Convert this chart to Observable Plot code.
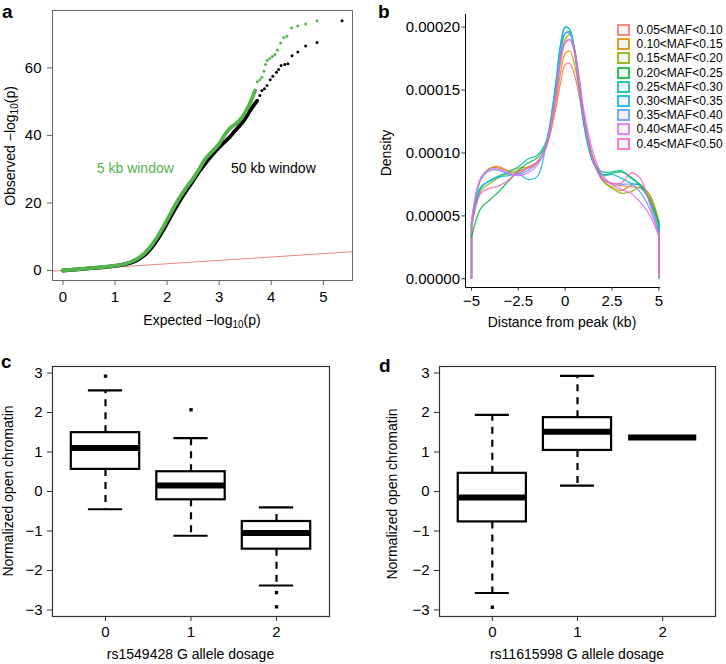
<!DOCTYPE html>
<html><head><meta charset="utf-8">
<script src="https://cdn.jsdelivr.net/npm/d3@7"></script>
<script src="https://cdn.jsdelivr.net/npm/@observablehq/plot@0.6"></script>
<style>
body{margin:0;background:#fff;}
#fig{position:relative;width:726px;height:664px;font-family:"Liberation Sans",Arial,Helvetica,sans-serif;color:#000;overflow:hidden;background:#fff}
.panel{position:absolute}
.lbl{position:absolute;font-size:14px;white-space:nowrap;line-height:1}
.rot{transform:translate(-50%,-50%) rotate(-90deg)}
.ctr{transform:translate(-50%,-50%)}
.let{position:absolute;font-weight:bold;font-size:19px;line-height:1}
.lbl sub{font-size:10px;vertical-align:-3px;line-height:0}
.key{position:absolute;width:13px;height:12px;box-sizing:border-box;border:2px solid;background:#f2f2f2}
.ktxt{position:absolute;font-size:12px;line-height:1;white-space:nowrap;transform:translateY(-50%)}
</style>
</head><body>
<div id="fig"></div>
<script>
// ---------- Panel a: QQ plot ----------
const qq5Exp  = [0,0.25,0.5,0.75,1.0,1.2,1.4,1.5,1.6,1.7,1.8,1.9,2.0,2.1,2.2,2.3,2.4,2.5,2.6,2.7,2.8,2.9,3.0,3.1,3.2,3.3,3.4,3.5,3.6,3.69];
const qq5Obs  = [0,0.35,0.65,1.0,1.45,2.0,3.2,4.2,5.6,7.4,9.6,12.2,15.0,17.8,20.6,23.0,25.2,27.3,29.6,32.3,34.2,35.8,37.5,40.0,42.0,43.2,44.6,46.8,49.8,53.3];
const qq5TailExp = [3.73,3.78,3.82,3.86,3.89,3.92,3.97,4.02,4.07,4.12,4.18,4.24,4.30,4.39,4.51,4.66,4.88];
const qq5TailObs = [55.9,56.5,57.2,59.0,61.0,62.2,62.8,63.4,64.0,65.3,67.4,68.9,69.4,71.8,72.4,73.0,74.0];
const qq50Exp = [0,0.5,1.0,1.2,1.4,1.5,1.6,1.7,1.8,1.9,2.0,2.1,2.2,2.3,2.4,2.5,2.6,2.7,2.8,2.9,3.0,3.1,3.2,3.3,3.4,3.5,3.6,3.73];
const qq50Obs = [0,0.6,1.35,1.9,2.9,3.8,5.0,6.7,8.8,11.3,14.0,16.8,19.5,22.0,24.3,26.6,29.0,31.0,33.0,34.8,36.5,38.0,39.5,41.3,43.0,45.0,47.5,50.3];
const qq50TailExp = [3.78,3.82,3.87,3.92,3.98,4.03,4.10,4.14,4.19,4.26,4.32,4.40,4.51,4.66,4.88,5.36];
const qq50TailObs = [51.8,53.3,53.8,54.8,56.5,57.5,58.7,59.5,60.7,61.0,61.2,63.6,64.7,66.5,67.5,74.0];
const aXTicks = [0,1,2,3,4,5];
const aYTicks = [0,20,40,60];
const aXDomain = [-0.2, 5.56];
const aYDomain = [-2.96, 77];
const aAnnotations = [
  {label: "5 kb window", x: 1.39, y: 30.2, color: "#52b44b"},
  {label: "50 kb window", x: 4.04, y: 30.2, color: "#000"}
];

// ---------- Panel b: density ----------
const densX = [-5,-4.5,-4,-3.5,-3,-2.5,-2,-1.5,-1,-0.5,-0.25,0,0.25,0.5,0.75,1,1.5,2,2.5,3,3.5,4,4.5,5];
// values in units of 1e-5
const dens0510 = [4.3,8.0,8.8,8.9,8.5,8.4,8.8,9.3,10.5,13.5,15.5,17.0,17.1,16.2,14.5,12.5,9.6,8.0,7.5,7.4,7.3,7.2,6.4,4.4];
const dens1015 = [4.2,7.9,8.8,8.8,8.6,8.8,8.9,9.2,10.6,14.0,16.3,17.9,18.1,17.0,15.0,12.7,9.5,7.8,7.3,7.0,7.4,7.5,6.6,4.5];
const dens1520 = [4.0,7.0,7.6,8.1,8.4,8.6,8.8,9.2,10.6,14.5,17.3,19.0,19.4,18.3,15.8,13.0,9.5,7.8,7.2,6.8,6.9,7.3,6.7,4.6];
const dens2025 = [3.3,5.6,6.3,7.0,7.8,8.6,9.2,9.6,10.8,15.0,17.8,19.5,19.6,18.2,15.7,12.8,9.3,8.3,8.4,8.5,8.1,7.4,6.3,4.5];
const dens2530 = [4.2,7.2,7.8,8.2,8.5,8.9,9.5,9.8,11.0,15.5,18.5,20.0,19.8,18.0,15.3,12.3,9.3,8.5,8.5,8.6,8.0,7.5,6.3,4.2];
const dens3035 = [4.3,7.3,7.8,8.1,8.2,8.35,7.9,8.1,10.8,15.5,18.6,20.0,19.8,18.0,15.2,12.2,9.2,8.2,8.3,8.0,7.6,7.4,6.2,3.8];
const dens3540 = [4.5,7.9,8.6,8.6,8.3,8.3,8.6,9.2,10.8,15.0,18.0,19.5,19.5,18.2,15.6,12.6,9.3,7.9,7.6,7.5,7.5,6.9,5.6,3.6];
const dens4045 = [4.6,8.0,8.7,8.7,8.4,8.2,8.4,9.0,10.6,14.6,17.4,18.8,19.0,18.0,16.0,13.4,10.0,8.2,7.5,7.1,6.8,6.1,5.1,3.4];
const dens4550 = [4.0,6.8,7.2,7.4,7.9,8.5,8.8,9.2,10.6,14.5,17.2,18.7,19.0,18.0,15.6,12.7,9.4,7.9,7.6,7.6,8.4,8.0,6.0,3.4];
const mafLabels = ["0.05<MAF<0.10","0.10<MAF<0.15","0.15<MAF<0.20","0.20<MAF<0.25","0.25<MAF<0.30","0.30<MAF<0.35","0.35<MAF<0.40","0.40<MAF<0.45","0.45<MAF<0.50"];
const mafSeries = [dens0510,dens1015,dens1520,dens2025,dens2530,dens3035,dens3540,dens4045,dens4550];
const mafColors = ["#F8766D","#D39200","#93AA00","#00BA38","#00C19F","#00B9E3","#619CFF","#DB72FB","#FF61C3"];
const bXTicks = [-5,-2.5,0,2.5,5];
const bYTicks = [0,0.00005,0.0001,0.00015,0.0002];
const bXDomain = [-5.32, 5.09];
const bYDomain = [-0.0000069, 0.000210];

// ---------- Panel c / d: boxplots ----------
const boxGroups = [0,1,2];
const boxTicksX = [0,1,2];
const boxTicksY = [-3,-2,-1,0,1,2,3];
const boxXDomain = [-0.62, 2.62];
const boxYDomain = [-3.165, 3.165];
const cLo  = [-0.45,-1.12,-2.38];
const cQ1  = [0.56,-0.21,-1.46];
const cMed = [1.10,0.15,-1.05];
const cQ3  = [1.49,0.50,-0.76];
const cHi  = [2.56,1.35,-0.40];
const cOutG = [0,1,2,2];
const cOutV = [2.92,2.07,-2.56,-2.92];
const dLo  = [-2.57,0.15,1.37];
const dQ1  = [-0.77,1.04,1.37];
const dMed = [-0.15,1.51,1.37];
const dQ3  = [0.46,1.87,1.37];
const dHi  = [1.94,2.93,1.37];
const dOutG = [0];
const dOutV = [-2.93];

const fontFamily = "'Liberation Sans', Arial, Helvetica, sans-serif";
const tickFont = 15;
const fig = document.getElementById("fig");
const minus = d => d < 0 ? "−" + Math.abs(d) : String(d);

function place(node, left, top) {
  const d = document.createElement("div");
  d.className = "panel";
  d.style.left = left + "px"; d.style.top = top + "px";
  d.appendChild(node); fig.appendChild(d);
}
function label(html, x, y, cls, asText) {
  const d = document.createElement("div");
  d.className = cls;
  if (asText) d.textContent = html; else d.innerHTML = html;
  d.style.left = x + "px"; d.style.top = y + "px";
  fig.appendChild(d);
}

// Panel a
{
  const dense5 = qq5Exp.map((x, i) => ({x, y: qq5Obs[i]}));
  const tail5 = qq5TailExp.map((x, i) => ({x, y: qq5TailObs[i]}));
  const dense50 = qq50Exp.map((x, i) => ({x, y: qq50Obs[i]}));
  const tail50 = qq50TailExp.map((x, i) => ({x, y: qq50TailObs[i]}));
  const svg = Plot.plot({
    width: 363, height: 310,
    marginLeft: 52, marginRight: 11, marginTop: 10, marginBottom: 30,
    style: {fontFamily, fontSize: "14px", background: "transparent", color: "black", overflow: "visible"},
    x: {domain: aXDomain}, y: {domain: aYDomain},
    marks: [
      Plot.line(aXDomain, {x: d => d, y: d => d, stroke: "#e8877f", strokeWidth: 1, clip: true}),
      Plot.line(dense50, {x: "x", y: "y", stroke: "black", strokeWidth: 3.8, strokeLinecap: "round", curve: "monotone-x"}),
      Plot.dot(tail50, {x: "x", y: "y", r: 1.5, fill: "black"}),
      Plot.line(dense5, {x: "x", y: "y", stroke: "#52b44b", strokeWidth: 3.8, strokeLinecap: "round", curve: "monotone-x"}),
      Plot.dot(tail5, {x: "x", y: "y", r: 1.5, fill: "#52b44b"}),
      Plot.text(aAnnotations, {x: "x", y: "y", text: "label", fill: "color", fontSize: 14}),
      Plot.frame({stroke: "#666"}),
      Plot.axisX({ticks: aXTicks, tickFormat: minus, tickSize: 5, tickPadding: 6, fontSize: tickFont, stroke: "#666", fill: "black", label: null}),
      Plot.axisY({ticks: aYTicks, tickFormat: minus, tickSize: 5, tickPadding: 6, fontSize: tickFont, stroke: "#666", fill: "black", label: null})
    ]
  });
  place(svg, 0, 0);
  label("Expected −log<sub>10</sub>(p)", 202, 320, "lbl ctr");
  label("Observed −log<sub>10</sub>(p)", 10, 146, "lbl rot");
  label("a", 2, 2, "let");
}

// Panel b
{
  const rows = [];
  const edges = [];
  mafSeries.forEach((vals, s) => {
    vals.forEach((v, i) => rows.push({x: densX[i], y: v * 1e-5, series: mafLabels[s]}));
    edges.push({x: densX[0], y: vals[0] * 1e-5, series: mafLabels[s]});
    edges.push({x: densX[densX.length - 1], y: vals[vals.length - 1] * 1e-5, series: mafLabels[s]});
  });
  const svg = Plot.plot({
    width: 363, height: 310,
    marginLeft: 102, marginRight: 66, marginTop: 14, marginBottom: 23,
    style: {fontFamily, fontSize: "14px", background: "transparent", color: "black", overflow: "visible"},
    x: {domain: bXDomain}, y: {domain: bYDomain},
    color: {domain: mafLabels, range: mafColors},
    marks: [
      Plot.ruleX(edges, {x: "x", y1: 0, y2: "y", stroke: "series", strokeWidth: 1.3, strokeOpacity: 0.85}),
      Plot.line(rows, {x: "x", y: "y", z: "series", stroke: "series", strokeWidth: 1.3, strokeOpacity: 0.85, curve: "catmull-rom"}),
      Plot.ruleX([bXDomain[0]], {stroke: "black", strokeWidth: 1}),
      Plot.ruleY([bYDomain[0]], {stroke: "black", strokeWidth: 1}),
      Plot.axisX({ticks: bXTicks, tickFormat: minus, tickSize: 3.5, tickPadding: 4, fontSize: tickFont, stroke: "#333", fill: "black", label: null}),
      Plot.axisY({ticks: bYTicks, tickFormat: d => d.toFixed(5), tickSize: 3.5, tickPadding: 2, fontSize: tickFont, stroke: "#333", fill: "black", label: null})
    ]
  });
  place(svg, 363, 0);
  label("Distance from peak (kb)", 562, 322, "lbl ctr");
  label("Density", 386, 153, "lbl rot");
  label("b", 378, 2, "let");
  mafLabels.forEach((lab, i) => {
    const k = document.createElement("div");
    k.className = "key";
    k.style.left = "617px"; k.style.top = (24 + i * 14.2) + "px";
    k.style.borderColor = mafColors[i];
    k.style.opacity = 0.85;
    fig.appendChild(k);
    label(lab, 636.5, 30 + i * 14.2, "ktxt", true);
  });
}

function boxPanel(lo, q1, med, q3, hi, outG, outV, opts) {
  const stats = boxGroups.map((g, i) => ({g, lo: lo[i], q1: q1[i], med: med[i], q3: q3[i], hi: hi[i]}));
  const outs = outG.map((g, i) => ({g, v: outV[i]}));
  return Plot.plot({
    width: 363, height: 324,
    marginLeft: opts.ml, marginRight: opts.mr, marginTop: 26, marginBottom: 48,
    style: {fontFamily, fontSize: "14px", background: "transparent", color: "black", overflow: "visible"},
    x: {domain: boxXDomain}, y: {domain: boxYDomain},
    marks: [
      Plot.ruleX(stats, {x: "g", y1: "q3", y2: "hi", strokeWidth: 2.2, strokeDasharray: "7,6"}),
      Plot.ruleX(stats, {x: "g", y1: "q1", y2: "lo", strokeWidth: 2.2, strokeDasharray: "7,6"}),
      Plot.ruleY(stats, {y: "hi", x1: d => d.g - 0.2, x2: d => d.g + 0.2, strokeWidth: 2.2}),
      Plot.ruleY(stats, {y: "lo", x1: d => d.g - 0.2, x2: d => d.g + 0.2, strokeWidth: 2.2}),
      Plot.rect(stats, {x1: d => d.g - 0.4, x2: d => d.g + 0.4, y1: "q1", y2: "q3", fill: "white", stroke: "black", strokeWidth: 2.2}),
      Plot.ruleY(stats, {y: "med", x1: d => d.g - 0.4, x2: d => d.g + 0.4, strokeWidth: 6}),
      Plot.dot(outs, {x: "g", y: "v", symbol: "square", r: 1.9, fill: "black"}),
      Plot.frame({stroke: "#333", strokeWidth: 1.2}),
      Plot.axisX({ticks: boxTicksX, tickFormat: minus, tickSize: 5, tickPadding: 5, fontSize: tickFont, stroke: "#333", fill: "black", label: null}),
      Plot.axisY({ticks: boxTicksY, tickFormat: minus, tickSize: 5, tickPadding: 5, fontSize: tickFont, stroke: "#333", fill: "black", label: null})
    ]
  });
}

place(boxPanel(cLo, cQ1, cMed, cQ3, cHi, cOutG, cOutV, {ml: 52, mr: 34}), 0, 340);
label("rs1549428 G allele dosage", 190.5, 654, "lbl ctr");
label("Normalized open chromatin", 8, 491, "lbl rot");
label("c", 1, 352, "let");

place(boxPanel(dLo, dQ1, dMed, dQ3, dHi, dOutG, dOutV, {ml: 76, mr: 11}), 363, 340);
label("rs11615998 G allele dosage", 577, 654, "lbl ctr");
label("Normalized open chromatin", 392, 494, "lbl rot");
label("d", 379, 356, "let");
</script>
</body></html>
